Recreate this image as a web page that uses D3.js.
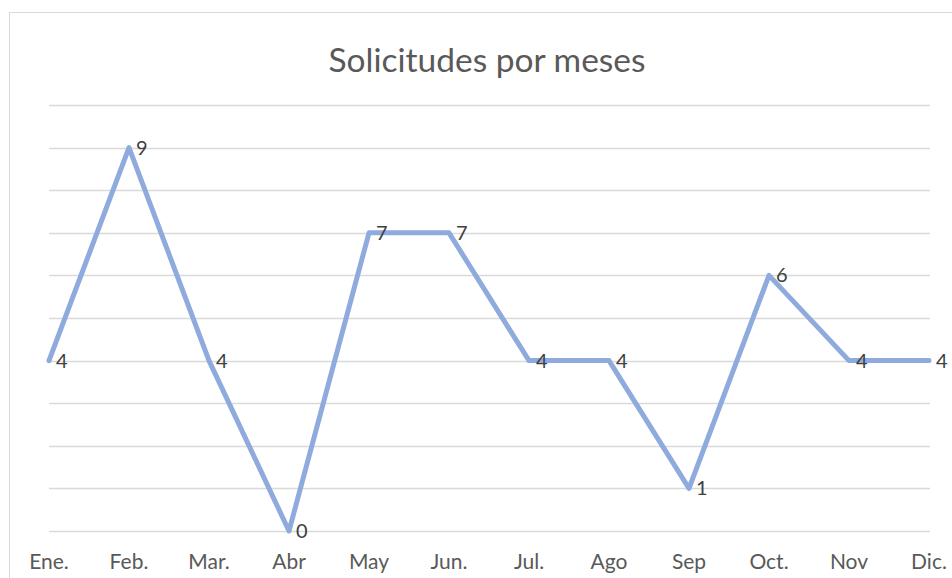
<!DOCTYPE html>
<html><head><meta charset="utf-8">
<script src="https://cdn.jsdelivr.net/npm/d3@7"></script>
<style>html,body{margin:0;padding:0;background:#fff;overflow:hidden}</style>
</head><body>
<svg id="c" width="952" height="578"></svg>
<script>
const months = ["Ene.","Feb.","Mar.","Abr","May","Jun.","Jul.","Ago","Sep","Oct.","Nov","Dic."];
const values = [4,9,4,0,7,7,4,4,1,6,4,4];
const yTicks = [0,1,2,3,4,5,6,7,8,9,10];
const title = "Solicitudes por meses";

const svg = d3.select("#c");
const font = "Lato, 'Open Sans', sans-serif";

svg.append("rect").attr("x",9.5).attr("y",12.5).attr("width",1000).attr("height",1000)
  .attr("fill","#fff").attr("stroke","#d9d9d9").attr("stroke-width",1);

const x = d3.scalePoint().domain(months).range([49,929]);
const y = d3.scaleLinear().domain([0,10]).range([531,105]);

svg.append("g").selectAll("line").data(yTicks).join("line")
  .attr("x1",49).attr("x2",930)
  .attr("y1",d=>Math.round(y(d))+0.5).attr("y2",d=>Math.round(y(d))+0.5)
  .attr("stroke","#d9d9d9").attr("stroke-width",1.3);

svg.append("text").attr("x",487).attr("y",72).attr("text-anchor","middle")
  .attr("font-family",font).attr("font-size",33.5).attr("fill","#595959").text(title);

svg.append("g").selectAll("text").data(months).join("text")
  .attr("x",d=>x(d)).attr("y",569).attr("text-anchor","middle")
  .attr("font-family",font).attr("font-size",21).attr("fill","#595959").text(d=>d);

const line = d3.line().x((d,i)=>x(months[i])).y(d=>y(d));
svg.append("path").datum(values).attr("d",line).attr("fill","none")
  .attr("stroke","#8faadc").attr("stroke-width",5).attr("stroke-linejoin","round").attr("stroke-linecap","round");

svg.append("g").selectAll("text").data(values).join("text")
  .attr("x",(d,i)=>x(months[i])+7).attr("y",d=>y(d)+7)
  .attr("font-family",font).attr("font-size",20).attr("fill","#404040").text(d=>d);
</script>
</body></html>
